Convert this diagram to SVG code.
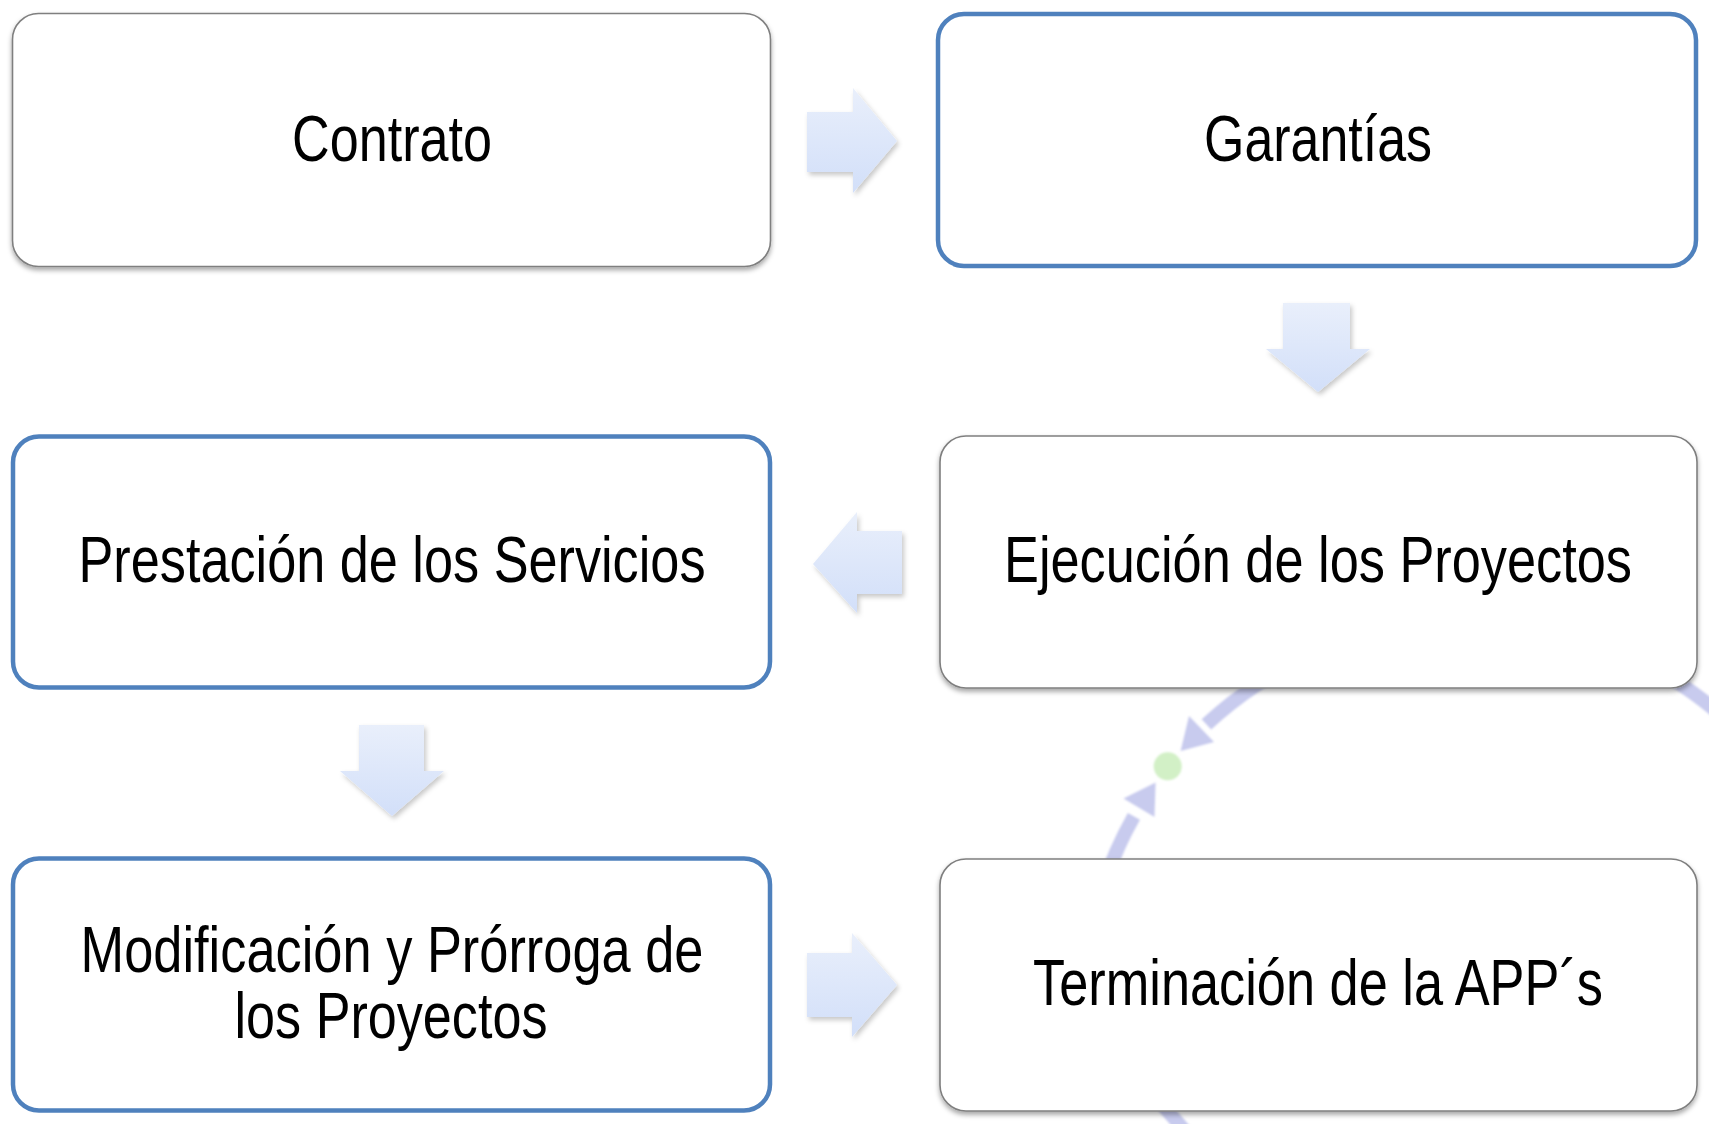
<svg xmlns="http://www.w3.org/2000/svg" width="1709" height="1124" viewBox="0 0 1709 1124">
  <defs>
    <linearGradient id="arrowGrad" x1="0" y1="0" x2="0" y2="1">
      <stop offset="0" stop-color="#e9effb"/>
      <stop offset="1" stop-color="#d2dff9"/>
    </linearGradient>
    <filter id="boxShadow" x="-5%" y="-5%" width="110%" height="115%">
      <feDropShadow dx="0" dy="3" stdDeviation="2.5" flood-color="#000" flood-opacity="0.35"/>
    </filter>
    <filter id="arrowShadow" x="-20%" y="-20%" width="140%" height="140%">
      <feDropShadow dx="2" dy="3" stdDeviation="2.5" flood-color="#000" flood-opacity="0.22"/>
    </filter>
    <filter id="soft" x="-20%" y="-20%" width="140%" height="140%">
      <feGaussianBlur stdDeviation="0.8"/>
    </filter>
  </defs>
  <style>
    .gray { fill: #ffffff; stroke: #7f7f7f; stroke-width: 1.6; filter: url(#boxShadow); }
    .blue { fill: #ffffff; stroke: #4f81bd; stroke-width: 4.5; }
    .lbl { font-family: "Liberation Sans", Arial, sans-serif; font-size: 65px; fill: #000; text-anchor: middle; }
    .arrow { fill: url(#arrowGrad); filter: url(#arrowShadow); }
    .bgarc { fill: none; stroke: #c8cbee; stroke-width: 14; }
    .bghead { fill: #c8cbee; }
  </style>

  <!-- faint background cycle (partly hidden behind nodes) -->
  <g id="background" filter="url(#soft)">
    <path class="bgarc" d="M 1435.4 622.5 A 385 385 0 0 0 1206.4 724.4"/>
    <polygon class="bghead" points="1189,716 1214,742 1180.6,751"/>
    <circle cx="1167.7" cy="766.3" r="14" fill="#cdeec0" opacity="0.9"/>
    <polygon class="bghead" points="1123.5,798.5 1154.5,817 1155.6,782.4"/>
    <path class="bgarc" d="M 1133.9 816.4 A 385 385 0 0 0 1089.9 1072.8"/>
    <path class="bgarc" d="M 1502.6 622.5 A 385 385 0 0 1 1830.8 874.3"/>
    <path class="bgarc" d="M 1158 1100 L 1186 1132"/>
  </g>

  <!-- connectors -->
  <g id="connectors">
    <polygon class="arrow" points="807,112 853,112 853,88 897,141 853,193 853,172 807,172"/>
    <polygon class="arrow" points="1283,303 1350,303 1350,349 1370,349 1318,392 1266,349 1283,349"/>
    <polygon class="arrow" points="902,531 857,531 857,512 813,564 857,613 857,594 902,594"/>
    <polygon class="arrow" points="359,725 424,725 424,771 444,771 392,816 340,771 359,771"/>
    <polygon class="arrow" points="807,953 852,953 852,933 897,985 852,1037 852,1017 807,1017"/>
  </g>

  <g id="node-contrato">
    <rect class="gray" x="12.5" y="13.5" width="758" height="253" rx="26"/>
    <text class="lbl" x="392" y="161" textLength="200" lengthAdjust="spacingAndGlyphs">Contrato</text>
  </g>
  <g id="node-garantias">
    <rect class="blue" x="938" y="14" width="758" height="252" rx="26"/>
    <text class="lbl" x="1318" y="161" textLength="228" lengthAdjust="spacingAndGlyphs">Garantías</text>
  </g>
  <g id="node-prestacion">
    <rect class="blue" x="13" y="436.5" width="757" height="251" rx="26"/>
    <text class="lbl" x="392" y="582" textLength="627" lengthAdjust="spacingAndGlyphs">Prestación de los Servicios</text>
  </g>
  <g id="node-ejecucion">
    <rect class="gray" x="940" y="436" width="757" height="252" rx="26"/>
    <text class="lbl" x="1318" y="582" textLength="628" lengthAdjust="spacingAndGlyphs">Ejecución de los Proyectos</text>
  </g>
  <g id="node-modificacion">
    <rect class="blue" x="13" y="858.5" width="757" height="252" rx="26"/>
    <text class="lbl" x="392" y="972" textLength="623" lengthAdjust="spacingAndGlyphs">Modificación y Prórroga de</text>
    <text class="lbl" x="391" y="1038" textLength="313" lengthAdjust="spacingAndGlyphs">los Proyectos</text>
  </g>
  <g id="node-terminacion">
    <rect class="gray" x="940" y="859" width="757" height="252" rx="26"/>
    <text class="lbl" x="1318" y="1005" textLength="570" lengthAdjust="spacingAndGlyphs">Terminación de la APP´s</text>
  </g>
</svg>
